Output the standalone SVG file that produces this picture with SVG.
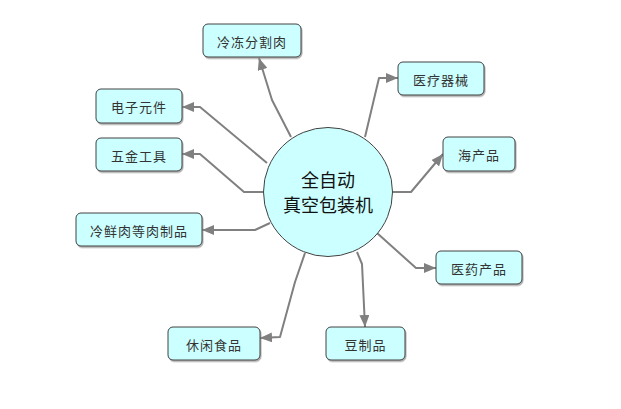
<svg xmlns="http://www.w3.org/2000/svg" width="621" height="409" viewBox="0 0 621 409">
<defs>
<marker id="ah" viewBox="0 0 12 10" refX="12" refY="5" markerWidth="12" markerHeight="10" markerUnits="userSpaceOnUse" orient="auto">
<path d="M0,0 L12,5 L0,10 Z" fill="#808080"/>
</marker>
<filter id="sh" x="-10%" y="-10%" width="130%" height="140%">
<feDropShadow dx="1" dy="1.5" stdDeviation="0.6" flood-color="#888" flood-opacity="0.7"/>
</filter>
</defs>
<style>
.box{fill:#ccffff;stroke:#404040;stroke-width:1;filter:url(#sh)}
.lbl{font-family:"Noto Sans CJK SC","Liberation Sans",sans-serif;font-size:13px;letter-spacing:1px;fill:#333;text-anchor:middle;dominant-baseline:central}
.ctr{font-family:"Noto Sans CJK SC","Liberation Sans",sans-serif;font-size:18px;fill:#111;text-anchor:middle}
.cn{fill:none;stroke:#808080;stroke-width:2;marker-end:url(#ah);stroke-linejoin:round}
</style>
<rect width="621" height="409" fill="#ffffff"/>
<g id="connectors">
<polyline class="cn" points="291,137 272,100 259,58"/>
<polyline class="cn" points="365,137 379,78 398,78"/>
<polyline class="cn" points="267,163 200,107 182,107"/>
<polyline class="cn" points="263,192 244,192 200,154 182,154"/>
<polyline class="cn" points="270,223 255,230 202,230"/>
<polyline class="cn" points="393,192 411,192 443,154"/>
<polyline class="cn" points="377,233 416,268 436,268"/>
<polyline class="cn" points="357,252 362,264 365,327"/>
<polyline class="cn" points="305,253 295,282 280,337 260,338"/>
</g>
<g id="center">
<circle cx="328" cy="192" r="64.5" fill="#ccffff" stroke="#404040" stroke-width="1"/>
<text class="ctr" x="328" y="187">全自动</text>
<text class="ctr" x="328" y="212">真空包装机</text>
</g>
<g id="n1"><rect class="box" x="203" y="24" width="98" height="33" rx="5"/><text class="lbl" x="252" y="41">冷冻分割肉</text></g>
<g id="n2"><rect class="box" x="398" y="62" width="86" height="33" rx="5"/><text class="lbl" x="441" y="79">医疗器械</text></g>
<g id="n3"><rect class="box" x="96" y="89" width="86" height="34" rx="5"/><text class="lbl" x="139" y="106">电子元件</text></g>
<g id="n4"><rect class="box" x="96" y="138" width="86" height="33" rx="5"/><text class="lbl" x="139" y="155">五金工具</text></g>
<g id="n5"><rect class="box" x="76" y="213" width="126" height="33" rx="5"/><text class="lbl" x="139" y="230">冷鲜肉等肉制品</text></g>
<g id="n6"><rect class="box" x="443" y="137" width="72" height="34" rx="5"/><text class="lbl" x="479" y="154">海产品</text></g>
<g id="n7"><rect class="box" x="436" y="251" width="86" height="33" rx="5"/><text class="lbl" x="479" y="268">医药产品</text></g>
<g id="n8"><rect class="box" x="168" y="327" width="92" height="33" rx="5"/><text class="lbl" x="214" y="344">休闲食品</text></g>
<g id="n9"><rect class="box" x="326" y="327" width="79" height="33" rx="5"/><text class="lbl" x="365.5" y="344">豆制品</text></g>
</svg>
